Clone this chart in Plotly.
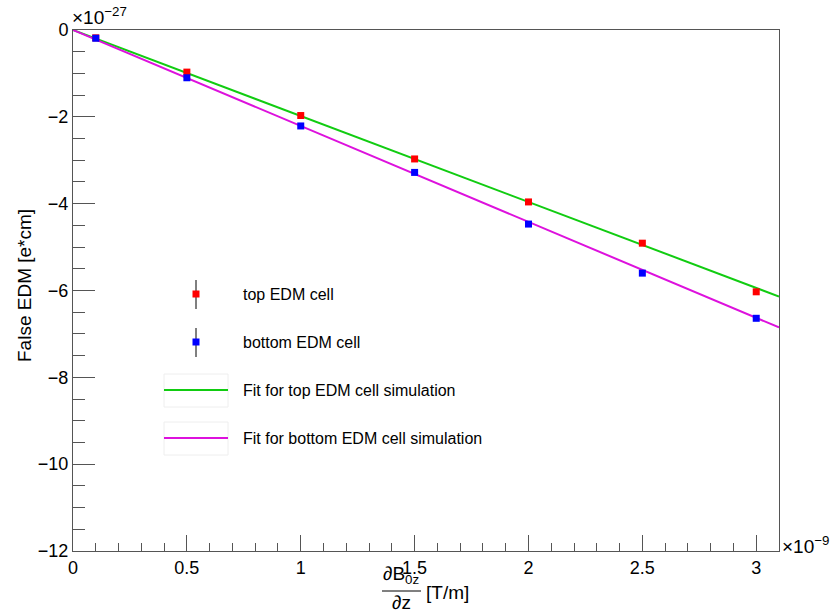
import plotly.graph_objects as go

# Field gradient values (units of 1e-9 T/m)
gradient = [0.1, 0.5, 1.0, 1.5, 2.0, 2.5, 3.0]
# False EDM (units of 1e-27 e*cm)
edm_top = [-0.18, -0.97, -1.97, -2.97, -3.96, -4.91, -6.03]
edm_bottom = [-0.19, -1.10, -2.21, -3.28, -4.47, -5.60, -6.64]

# Linear fits to the simulation: edm = slope * gradient + offset
fit_range = [0.0, 3.1]
fit_top_slope, fit_top_offset = -1.98, 0.0
fit_bottom_slope, fit_bottom_offset = -2.21, 0.0

y_ticks = [0, -2, -4, -6, -8, -10, -12]
x_ticks = [0, 0.5, 1, 1.5, 2, 2.5, 3]

W, H = 834, 612
L, R, T, B = 73, 779, 30, 551
FONT = "Liberation Sans, Arial, sans-serif"
AX = "#555555"


def px(x):
    return (x - L) / (R - L)


def py(y):
    return (B - y) / (B - T)


fig = go.Figure()

fit_top = [fit_top_slope * g + fit_top_offset for g in fit_range]
fit_bottom = [fit_bottom_slope * g + fit_bottom_offset for g in fit_range]

fig.add_trace(go.Scatter(x=fit_range, y=fit_top, mode="lines",
                         line=dict(color="#11cc11", width=2),
                         name="Fit for top EDM cell simulation", showlegend=False))
fig.add_trace(go.Scatter(x=fit_range, y=fit_bottom, mode="lines",
                         line=dict(color="#dd11dd", width=2),
                         name="Fit for bottom EDM cell simulation", showlegend=False))
fig.add_trace(go.Scatter(x=gradient, y=edm_top, mode="markers",
                         marker=dict(symbol="square", size=7, color="#ff0000"),
                         name="top EDM cell", showlegend=False))
fig.add_trace(go.Scatter(x=gradient, y=edm_bottom, mode="markers",
                         marker=dict(symbol="square", size=7, color="#0000ff"),
                         name="bottom EDM cell", showlegend=False))

shapes = []
annotations = []

# Legend: markers with error bars
for ypix, col in [(294, "#ff0000"), (342, "#0000ff")]:
    shapes.append(dict(type="line", xref="paper", yref="paper",
                       x0=px(196), x1=px(196), y0=py(ypix - 14), y1=py(ypix + 15),
                       line=dict(color="black", width=1)))
    shapes.append(dict(type="rect", xref="paper", yref="paper",
                       xsizemode="pixel", ysizemode="pixel",
                       xanchor=px(196), yanchor=py(ypix),
                       x0=-3.5, x1=3.5, y0=-3.5, y1=3.5,
                       fillcolor=col, line=dict(width=0)))
# Legend: fit lines with faint boxes
for ypix, col in [(390, "#11cc11"), (438, "#dd11dd")]:
    shapes.append(dict(type="rect", xref="paper", yref="paper",
                       x0=px(164), x1=px(228), y0=py(ypix + 17), y1=py(ypix - 16),
                       line=dict(color="#eeeeee", width=1), fillcolor="rgba(0,0,0,0)"))
    shapes.append(dict(type="line", xref="paper", yref="paper",
                       x0=px(164), x1=px(228), y0=py(ypix), y1=py(ypix),
                       line=dict(color=col, width=2)))

legend_texts = [(294, "top EDM cell"), (342, "bottom EDM cell"),
                (390, "Fit for top EDM cell simulation"),
                (438, "Fit for bottom EDM cell simulation")]
for ypix, txt in legend_texts:
    annotations.append(dict(xref="paper", yref="paper", x=px(241), y=py(ypix),
                            xanchor="left", yanchor="middle", text=txt, showarrow=False,
                            font=dict(family=FONT, size=16, color="black")))

# Axis exponents
annotations.append(dict(xref="paper", yref="paper", x=px(70), y=py(30),
                        xanchor="left", yanchor="bottom",
                        text="×10<sup>−27</sup>", showarrow=False,
                        font=dict(family=FONT, size=19, color="black")))
annotations.append(dict(xref="paper", yref="paper", x=px(780), y=py(545),
                        xanchor="left", yanchor="middle",
                        text="×10<sup>−9</sup>", showarrow=False,
                        font=dict(family=FONT, size=19, color="black")))

# Y axis title
annotations.append(dict(xref="paper", yref="paper", x=px(24), y=py(286),
                        xanchor="center", yanchor="middle", textangle=-90,
                        text="False EDM [e*cm]", showarrow=False,
                        font=dict(family=FONT, size=19, color="black")))

# X axis title as a fraction: dB0z/dz [T/m]
annotations.append(dict(xref="paper", yref="paper", x=px(381), y=py(575),
                        xanchor="left", yanchor="middle",
                        text="∂B<sub>0z</sub>", showarrow=False,
                        font=dict(family=FONT, size=19, color="black")))
shapes.append(dict(type="line", xref="paper", yref="paper",
                   x0=px(382), x1=px(421), y0=py(591), y1=py(591),
                   line=dict(color="black", width=1)))
annotations.append(dict(xref="paper", yref="paper", x=px(401), y=py(602),
                        xanchor="center", yanchor="middle",
                        text="∂z", showarrow=False,
                        font=dict(family=FONT, size=19, color="black")))
annotations.append(dict(xref="paper", yref="paper", x=px(424), y=py(592),
                        xanchor="left", yanchor="middle",
                        text="[T/m]", showarrow=False,
                        font=dict(family=FONT, size=19, color="black")))

fig.update_layout(
    width=W, height=H,
    margin=dict(l=L, r=W - R, t=T, b=H - B, pad=0),
    paper_bgcolor="white", plot_bgcolor="white",
    showlegend=False,
    shapes=shapes, annotations=annotations,
    font=dict(family=FONT, size=18, color="black"),
)
fig.update_xaxes(
    range=[0, 3.1], tickvals=x_ticks, ticktext=[f"{v:g}" for v in x_ticks],
    ticks="inside", ticklen=16, tickwidth=1, tickcolor=AX,
    minor=dict(ticks="inside", ticklen=8, dtick=0.1, tick0=0, tickcolor=AX, showgrid=False),
    showline=True, linecolor=AX, linewidth=1, mirror=True,
    showgrid=False, zeroline=False,
    tickfont=dict(family=FONT, size=18, color="black"),
)
fig.update_yaxes(
    range=[-12, 0], tickvals=y_ticks,
    ticktext=[f"{v:g}".replace("-", "−") for v in y_ticks],
    ticks="inside", ticklen=22, tickwidth=1, tickcolor=AX,
    minor=dict(ticks="inside", ticklen=12, dtick=0.5, tick0=0, tickcolor=AX, showgrid=False),
    showline=True, linecolor=AX, linewidth=1, mirror=True,
    showgrid=False, zeroline=False,
    tickfont=dict(family=FONT, size=18, color="black"),
)

fig.write_html("out.html")
